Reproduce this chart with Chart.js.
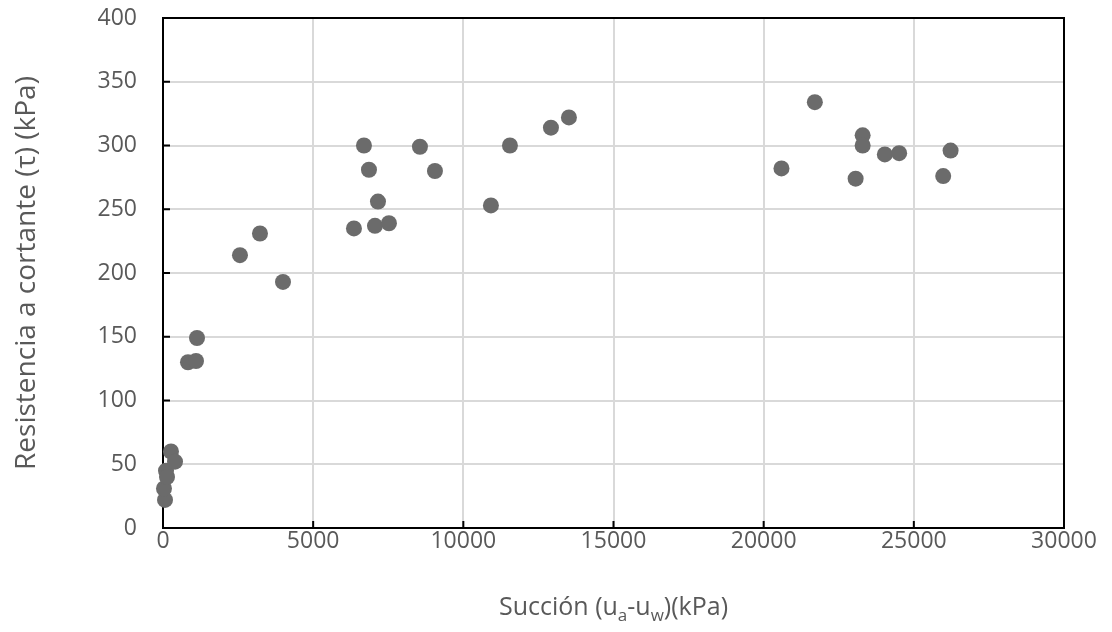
<!DOCTYPE html>
<html>
<head>
<meta charset="utf-8">
<script src="https://cdn.jsdelivr.net/npm/chart.js@4/dist/chart.umd.min.js"></script>
<style>
  html, body { margin: 0; padding: 0; background: #fff; }
  #wrap { width: 1112px; height: 632px; }
</style>
</head>
<body>
<div id="wrap"><canvas id="myChart"></canvas></div>
<script>
/* data */
const suction = [67, 33, 100, 133, 266, 400, 832, 1099, 1132, 2563, 3229, 3995,
  6358, 6691, 6858, 7058, 7158, 7523, 8555, 9055, 10919, 11552, 12917, 13516,
  20593, 21704, 23062, 23296, 23296, 24035, 24511, 25978, 26224];
const shear = [22, 31, 45, 40, 60, 52, 130, 131, 149, 214, 231, 193,
  235, 300, 281, 237, 256, 239, 299, 280, 253, 300, 314, 322,
  282, 334, 274, 308, 300, 293, 294, 276, 296];

const yTitle = "Resistencia a cortante (τ) (kPa)";

const textColor = "#595959";
const gridColor = "#d9d9d9";
const pointColor = "#6b6b6b";
const fontFamily = "'Open Sans'";

let points = suction.map((x, i) => ({ x: x, y: shear[i] }));

// black frame round the plot area, with small inward ticks (under the points)
const frame = {
  id: "frame",
  beforeDatasetsDraw(chart) {
    let a = chart.chartArea;
    let c = chart.ctx;
    c.save();
    c.strokeStyle = "#000";
    c.lineWidth = 2;
    c.strokeRect(a.left, a.top, a.right - a.left, a.bottom - a.top);
    c.beginPath();
    chart.scales.y.ticks.forEach((t) => {
      let py = chart.scales.y.getPixelForValue(t.value);
      c.moveTo(a.left, py);
      c.lineTo(a.left + 7, py);
    });
    chart.scales.x.ticks.forEach((t) => {
      let px = chart.scales.x.getPixelForValue(t.value);
      c.moveTo(px, a.bottom);
      c.lineTo(px, a.bottom - 7);
    });
    c.stroke();
    c.restore();
  },
};

// x title with real subscripts
const xLabel = {
  id: "xLabel",
  afterDraw(chart) {
    let a = chart.chartArea;
    let c = chart.ctx;
    c.save();
    c.fillStyle = textColor;
    c.textBaseline = "alphabetic";
    let big = "25px " + fontFamily;
    let small = "17px " + fontFamily;
    let parts = [["Succión (u", big, 0], ["a", small, 6], ["-u", big, 0], ["w", small, 6], [")(kPa)", big, 0]];
    let w = 0;
    parts.forEach((p) => { c.font = p[1]; w += c.measureText(p[0]).width; });
    let x = (a.left + a.right) / 2 - w / 2;
    let y = 615;
    parts.forEach((p) => {
      c.font = p[1];
      c.fillText(p[0], x, y + p[2]);
      x += c.measureText(p[0]).width;
    });
    c.restore();
  },
};

let ctx = document.getElementById("myChart");

let scatterChart = new Chart(ctx, {
  type: "scatter",
  data: {
    datasets: [
      {
        data: points,
        backgroundColor: pointColor,
        borderColor: pointColor,
        pointRadius: 8,
        pointHoverRadius: 8,
        borderWidth: 0,
        clip: false,
      },
    ],
  },
  options: {
    responsive: true,
    maintainAspectRatio: false,
    animation: false,
    layout: { padding: { left: 0, top: 0, right: 48, bottom: 0 } },
    plugins: {
      legend: { display: false },
      tooltip: { enabled: false },
    },
    scales: {
      x: {
        type: "linear",
        min: 0,
        max: 30000,
        afterFit: (s) => { s.height = 104; },
        ticks: {
          stepSize: 5000,
          color: textColor,
          font: { family: fontFamily, size: 23 },
          padding: 0,
          callback: (v) => String(v),
        },
        grid: { color: gridColor, lineWidth: 2, drawTicks: false },
        border: { display: false },
      },
      y: {
        type: "linear",
        min: 0,
        max: 400,
        afterFit: (s) => {
          s.width = 163;
          s.paddingTop = 18;
          s.paddingBottom = 0;
        },
        ticks: {
          stepSize: 50,
          color: textColor,
          font: { family: fontFamily, size: 23 },
          padding: 26,
          callback: (v) => String(v),
        },
        grid: { color: gridColor, lineWidth: 2, drawTicks: false },
        border: { display: false },
        title: {
          display: true,
          text: yTitle,
          color: textColor,
          font: { family: fontFamily, size: 28 },
          padding: { top: 10, bottom: 0 },
        },
      },
    },
  },
  plugins: [frame, xLabel],
});
</script>
</body>
</html>
